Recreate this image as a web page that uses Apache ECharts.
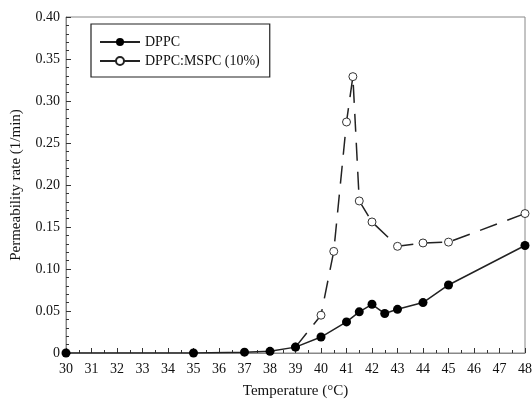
<!DOCTYPE html>
<html><head><meta charset="utf-8">
<script src="https://cdn.jsdelivr.net/npm/echarts@6/dist/echarts.min.js"></script>
<style>html,body{margin:0;padding:0;background:#fff}#c{width:532px;height:399px}</style>
</head><body><div id="c"></div>
<script>
var dppcTemp = [30, 35, 37, 38, 39, 40, 41, 41.5, 42, 42.5, 43, 44, 45, 48];
var dppcRate = [0, 0, 0.001, 0.002, 0.007, 0.019, 0.037, 0.049, 0.058, 0.047, 0.052, 0.060, 0.081, 0.128];
var mspcTemp = [39, 40, 40.5, 41, 41.25, 41.5, 42, 43, 44, 45, 48];
var mspcRate = [0.007, 0.045, 0.121, 0.275, 0.329, 0.181, 0.156, 0.127, 0.131, 0.132, 0.166];
var seriesNames = ['DPPC', 'DPPC:MSPC (10%)'];
var xName = 'Temperature (\u00B0C)';
var yName = 'Permeability rate (1/min)';

function pairs(xs, ys) { return xs.map(function (x, i) { return [x, ys[i]]; }); }
var font = 'Liberation Serif';
var chart = echarts.init(document.getElementById('c'));
chart.setOption({
  animation: false,
  textStyle: { fontFamily: font },
  grid: { left: 66, right: 7, top: 17, bottom: 46, show: true, borderColor: '#888', borderWidth: 1,
    containLabel: false, outerBoundsMode: 'none' },
  legend: {
    orient: 'vertical', left: 91, top: 24, width: 177,
    padding: [11, 10, 9, 8], itemGap: 5, itemWidth: 40, itemHeight: 10,
    borderColor: '#222', borderWidth: 1.2,
    textStyle: { fontFamily: font, fontSize: 14, color: '#111' },
    data: [
      { name: seriesNames[0] },
      { name: seriesNames[1], itemStyle: { color: '#fff', borderColor: '#222' }, lineStyle: { type: 'solid', color: '#222' } }
    ]
  },
  xAxis: {
    type: 'value', min: 30, max: 48, interval: 1,
    name: xName, nameLocation: 'middle', nameGap: 31,
    nameTextStyle: { fontFamily: font, fontSize: 15, color: '#111' },
    axisLine: { onZero: false, lineStyle: { color: '#888' } },
    axisTick: { inside: true, length: 5, lineStyle: { color: '#333' } },
    minorTick: { show: true, splitNumber: 2, length: 3, lineStyle: { color: '#333' } },
    axisLabel: { fontFamily: font, fontSize: 14, color: '#111', margin: 9 },
    splitLine: { show: false }
  },
  yAxis: {
    type: 'value', min: 0, max: 0.4, interval: 0.05,
    name: yName, nameLocation: 'middle', nameGap: 42,
    nameTextStyle: { fontFamily: font, fontSize: 15, color: '#111' },
    axisLine: { show: true, lineStyle: { color: '#888' } },
    axisTick: { inside: true, length: 5, lineStyle: { color: '#333' } },
    minorTick: { show: true, splitNumber: 5, length: 3, lineStyle: { color: '#333' } },
    axisLabel: { fontFamily: font, fontSize: 14, color: '#111', margin: 6,
      formatter: function (v) { return v === 0 ? '0' : v.toFixed(2); } },
    splitLine: { show: false }
  },
  series: [
    {
      name: seriesNames[1], type: 'line', data: pairs(mspcTemp, mspcRate),
      symbol: 'circle', symbolSize: 8, z: 2,
      lineStyle: { color: '#222', width: 1.5, type: [18, 11] },
      itemStyle: { color: '#fff', borderColor: '#333', borderWidth: 1 }
    },
    {
      name: seriesNames[0], type: 'line', data: pairs(dppcTemp, dppcRate),
      symbol: 'circle', symbolSize: 9, z: 3,
      lineStyle: { color: '#222', width: 1.5 },
      itemStyle: { color: '#000', borderColor: '#000', borderWidth: 0 }
    }
  ]
});
</script></body></html>
